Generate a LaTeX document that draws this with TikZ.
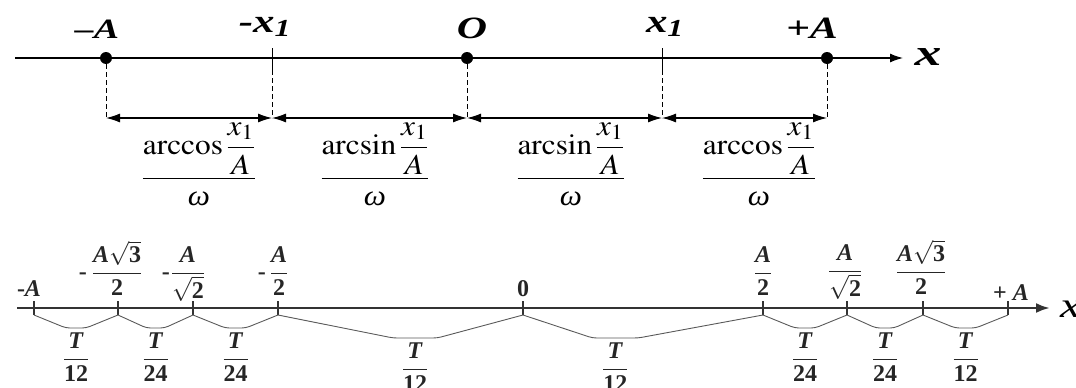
\documentclass[tikz,border=0pt]{standalone}
\usepackage{amsmath}
\usepackage{graphicx}
\usepackage{mathptmx}
\usepackage{fontspec}
\setmainfont{Liberation Serif}
\usetikzlibrary{arrows.meta,positioning,calc}
\newcommand{\hstretch}[2][1.35]{\scalebox{#1}[1]{#2}}
\newcommand{\om}{\text{\itshape ω}}
\newcommand{\bital}[1]{\textbf{\textit{#1}}}
\newcommand{\bnum}[1]{\textbf{#1}}

\begin{document}
\begin{tikzpicture}[x=1pt,y=-1pt,
    dot/.style={circle,fill,inner sep=0pt,minimum size=12pt},
    mainaxis/.style={line width=1.2pt,-{Latex[length=13pt,width=9pt]}},
    lowaxis/.style={line width=2.6pt,black!80,-{Latex[length=14pt,width=10pt]}},
    dim/.style={line width=1.1pt,{Latex[length=14pt,width=9pt]}-{Latex[length=14pt,width=9pt]}},
    guide/.style={line width=1pt,dash pattern=on 5pt off 3pt},
    tickmark/.style={line width=1.8pt,black!80},
    arcline/.style={line width=0.9pt,black!65,rounded corners=4pt},
    toplab/.style={font=\fontsize{31}{35}\selectfont\bfseries\itshape,anchor=base,inner sep=0pt},
    dimlab/.style={font=\fontsize{29}{33}\selectfont,anchor=base,inner sep=0pt},
    vallab/.style={font=\fontsize{24}{28}\selectfont\bfseries,anchor=base,inner sep=0pt,black!85},
    tlab/.style={font=\fontsize{24}{28}\selectfont\bfseries,anchor=north,inner sep=0pt,black!85}]
    \useasboundingbox (0,0) rectangle (1076,388);

    % upper axis
    \coordinate (u0) at (15,58);
    \coordinate (u1) at (903,58);
    \draw[mainaxis] (u0) -- (u1);
    \node[dot] (mA) at (106,58) {};
    \node[dot] (O) at (467,58) {};
    \node[dot] (pA) at (827,58) {};
    \coordinate (mx) at (272,48);
    \coordinate (px) at (662,48);
    \coordinate (mx2) at (272,70);
    \coordinate (px2) at (662,70);
    \draw[line width=1pt] (mx) -- (mx2);
    \draw[line width=1pt] (px) -- (px2);
    \node[toplab] (lmA) at (97,38) {\fontsize{28}{32}\selectfont\hstretch{–A}};
    \node[toplab] (lmx) at (265,32) {\fontsize{33}{37}\selectfont\hstretch[1.3]{-x\textsubscript{1}}};
    \node[toplab] (lO) at (472,38) {\hstretch{O}};
    \node[toplab] (lpx) at (665,32) {\fontsize{33}{37}\selectfont\hstretch[1.3]{x\textsubscript{1}}};
    \node[toplab] (lpA) at (812,38) {\hstretch{+A}};
    \node[toplab] (lx) at (928,65) {\fontsize{37}{41}\selectfont\hstretch[1.45]{x}};

    % dimension arrows
    \coordinate (dA) at (106,118);
    \coordinate (dmx) at (272,118);
    \coordinate (dO) at (467,118);
    \coordinate (dpx) at (662,118);
    \coordinate (dpA) at (827,118);
    \draw[guide] (mA) -- (dA);
    \draw[guide] (mx2) -- (dmx);
    \draw[guide] (O) -- (dO);
    \draw[guide] (px2) -- (dpx);
    \draw[guide] (pA) -- (dpA);
    \draw[dim] (dA) -- (dmx);
    \draw[dim] (dmx) -- (dO);
    \draw[dim] (dO) -- (dpx);
    \draw[dim] (dpx) -- (dpA);
    \node[dimlab] (f1) at (199,186) {\hstretch[1.08]{$\dfrac{\arccos\dfrac{x_1}{A}}{\om}$}};
    \node[dimlab] (f2) at (375,186) {\hstretch[1.08]{$\dfrac{\arcsin\dfrac{x_1}{A}}{\om}$}};
    \node[dimlab] (f3) at (571,186) {\hstretch[1.08]{$\dfrac{\arcsin\dfrac{x_1}{A}}{\om}$}};
    \node[dimlab] (f4) at (759,186) {\hstretch[1.08]{$\dfrac{\arccos\dfrac{x_1}{A}}{\om}$}};

    % lower axis
    \coordinate (b0) at (17,308);
    \coordinate (b1) at (1050,308);
    \draw[lowaxis] (b0) -- (b1);
    \node[toplab,anchor=base west] (bx) at (1060,317) {\fontsize{36}{40}\selectfont\mdseries\hstretch[1.3]{x}};
    \foreach \n/\x in {1/34,2/118,3/193,4/278,5/523,6/763,7/847,8/923,9/1008}
        \coordinate (n\n) at (\x,308);
    \foreach \n in {1,...,9}
        \draw[tickmark] ($(n\n)+(0,-7)$) -- ($(n\n)+(0,7)$);
    \foreach \a/\b/\pa/\pb/\dep/\den [count=\i] in {1/2/0.38/0.62/13/12,2/3/0.38/0.62/13/24,
        3/4/0.38/0.62/13/24,4/5/0.47/0.65/23/12,5/6/0.29/0.48/23/12,6/7/0.38/0.62/13/24,
        7/8/0.38/0.62/13/24,8/9/0.38/0.62/13/12}
    {
        \draw[arcline] ($(n\a)+(0,7)$) -- ($(n\a)!\pa!(n\b)+(0,7+\dep)$) coordinate (k\i)
            -- ($(n\a)!\pb!(n\b)+(0,7+\dep)$) coordinate (m\i) -- ($(n\b)+(0,7)$);
        \node[tlab] (t\i) at ($(k\i)!0.5!(m\i)+(0,5)$) {$\dfrac{\bital{T}}{\bnum{\den}}$};
    }

    % values above the lower axis
    \node[vallab] (v1) at (29,296) {-\bital{A}};
    \node[vallab] (v2) at (117,279) {$\llap{-\hspace{5pt}}\dfrac{\bital{A}\sqrt{\bnum{3}}}{\bnum{2}}$};
    \node[vallab] (v3) at (188,279) {$\llap{-\hspace{1pt}}\dfrac{\bital{A}}{\sqrt{\bnum{2}}}$};
    \node[vallab] (v4) at (279,279) {$\llap{-\hspace{4pt}}\dfrac{\bital{A}}{\bnum{2}}$};
    \node[vallab] (v5) at (523,296) {0};
    \node[vallab] (v6) at (763,279) {$\dfrac{\bital{A}}{\bnum{2}}$};
    \node[vallab] (v7) at (845,277) {$\dfrac{\bital{A}}{\sqrt{\bnum{2}}}$};
    \node[vallab] (v8) at (921,278) {$\dfrac{\bital{A}\sqrt{\bnum{3}}}{\bnum{2}}$};
    \node[vallab] (v9) at (1011,300) {+ \bital{A}};
\end{tikzpicture}
\end{document}
